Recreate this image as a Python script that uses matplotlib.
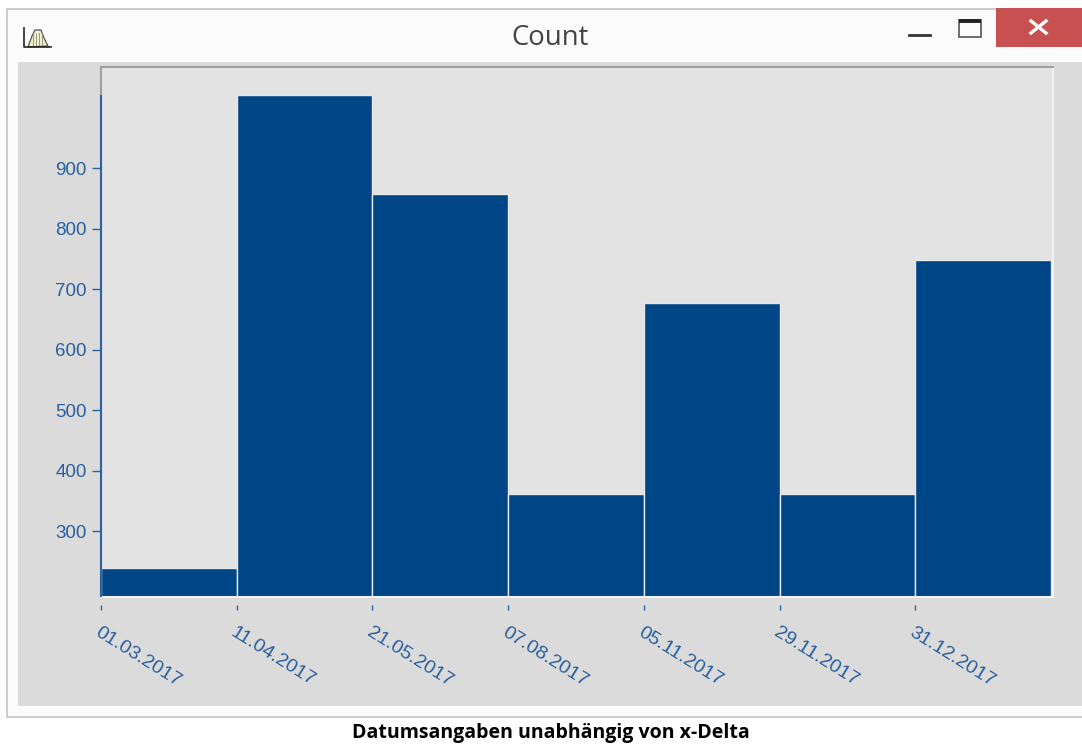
#!/usr/bin/env python3
# Histogram inside a mock application window, with caption below
import matplotlib
matplotlib.use('Agg')
import matplotlib.pyplot as plt
from matplotlib.patches import Rectangle, Polygon

W, H = 1082, 745

date_labels = ['01.03.2017', '11.04.2017', '21.05.2017', '07.08.2017', '05.11.2017', '29.11.2017', '31.12.2017']
counts = [239, 1020, 857, 361, 677, 361, 748]
y_ticks = [300, 400, 500, 600, 700, 800, 900]

BAR = '#004687'
TEXT = '#2a5f9e'
AXIS = '#2a64a5'

fig = plt.figure(figsize=(W / 100, H / 100), dpi=100, facecolor='white')

# window chrome, drawn in pixel coordinates
bg = fig.add_axes([0, 0, 1, 1])
bg.set_xlim(0, W)
bg.set_ylim(H, 0)
bg.axis('off')
bg.add_patch(Rectangle((6.5, 8.5), W, 708, fc='#fbfbfb', ec='#c4c4c4', lw=1.2))
bg.add_patch(Rectangle((18, 62), W - 18, 644, fc='#dbdbdb', ec='none'))
bg.add_patch(Rectangle((996, 8), 86, 39, fc='#c75050', ec='none'))
bg.plot([1031, 1046], [21, 33], color='white', lw=2.4)
bg.plot([1031, 1046], [33, 21], color='white', lw=2.4)
bg.plot([909, 930], [35, 35], color='#333333', lw=2)
bg.add_patch(Rectangle((959, 20), 21.5, 16.5, fc='none', ec='#555555', lw=1.2))
bg.plot([958.5, 981], [21, 21], color='#222222', lw=2.8, solid_capstyle='butt')
# little histogram icon
bg.add_patch(Polygon([(28, 47), (32, 36), (35, 30), (41, 30), (44, 38), (48, 46)], fc='#f0efc8', ec='#555555', lw=0.9))
for hatch_x in [33, 36, 39, 42]:
    bg.plot([hatch_x, hatch_x], [33, 46], color='#888888', lw=0.6)
bg.plot([24, 24, 51], [28, 47, 47], color='#222222', lw=1.2)
bg.text(550, 38, 'Count', ha='center', va='center', fontsize=19.8, family='Open Sans', color='#444444')
bg.text(551, 733, 'Datumsangaben unabhängig von x-Delta', ha='center', va='center',
        fontsize=14, family='Open Sans', fontweight='bold', color='black')

# plot area 101..1053 x 67..597 px
ax = fig.add_axes([101 / W, 1 - 597 / H, (1053 - 101) / W, (597 - 67) / H], facecolor='#e3e3e3')
pos = list(range(len(counts)))
ax.bar(pos, counts, width=1, align='edge', color=BAR, edgecolor='#e8e8e8', linewidth=1)
ax.set_xlim(0, 7.015)
ax.set_ylim(191, 1067)

for side in ['top', 'left']:
    ax.spines[side].set_color('#a0a0a0')
    ax.spines[side].set_linewidth(1.5)
ax.spines['right'].set_color('#f4f4f4')
ax.spines['right'].set_linewidth(1.5)

# the x axis ticks sit a few pixels below the plot, away from its edge
ax.spines['bottom'].set_position(('outward', 5.8))
ax.spines['bottom'].set_visible(False)
ax.axhline(191, color='#f4f4f4', lw=1.5, clip_on=False, zorder=4)
ax.vlines(0, 191, max(counts), color=AXIS, lw=1.5, clip_on=False, zorder=5)

ax.set_yticks(y_ticks)
ax.set_xticks(pos)
ax.set_xticklabels(date_labels, rotation=-32, rotation_mode='anchor', ha='left', va='top',
                   fontsize=14, family='Liberation Sans', color=TEXT)
for lab in ax.get_yticklabels():
    lab.set_family('Liberation Sans')
ax.tick_params(axis='y', length=6.5, width=1, color=AXIS, labelcolor=TEXT, labelsize=13.5, pad=3.6)
ax.tick_params(axis='x', length=3.6, width=1, color=AXIS, pad=10)

plt.savefig('out.png', dpi=100)
